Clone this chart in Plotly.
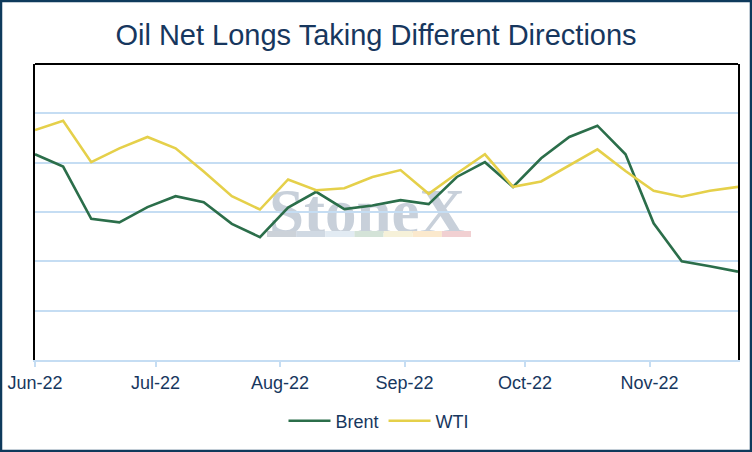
import pandas as pd
import plotly.graph_objects as go

# weekly positioning (unlabelled y scale, 0-6)
dates = pd.date_range("2022-06-01", periods=26, freq="7D")
brent = [4.17, 3.92, 2.86, 2.79, 3.10, 3.32, 3.20, 2.76, 2.49, 3.09, 3.41, 3.06, 3.13,
         3.24, 3.16, 3.71, 4.01, 3.51, 4.09, 4.52, 4.75, 4.17, 2.77, 2.00, 1.90, 1.79]
wti = [4.66, 4.85, 4.01, 4.29, 4.52, 4.29, 3.82, 3.32, 3.05, 3.66, 3.44, 3.48, 3.71,
       3.85, 3.37, 3.78, 4.17, 3.51, 3.62, 3.95, 4.27, 3.83, 3.43, 3.31, 3.43, 3.51]

NAVY = "#17375E"
GREEN = "#2B6E4A"
YELLOW = "#E5D04A"
GRID = "#C5DDF3"
FONT = "Liberation Sans, Arial, sans-serif"

W, H = 752, 452
L, R, T, B = 35, 14, 64, 92
pw, ph = W - L - R, H - T - B


def px(x):
    return (x - L) / pw


def py(y):
    return (H - B - y) / ph


fig = go.Figure()
fig.add_trace(go.Scatter(x=dates, y=brent, mode="lines", name="Brent",
                         line=dict(color=GREEN, width=2.6)))
fig.add_trace(go.Scatter(x=dates, y=wti, mode="lines", name="WTI",
                         line=dict(color=YELLOW, width=2.6)))

shapes = [
    # outer frame
    dict(type="rect", xref="paper", yref="paper", x0=px(1), x1=px(751), y0=py(451), y1=py(1),
         line=dict(color="#0E3A5C", width=2.5), layer="above"),
    # top border of the plot area
    dict(type="line", xref="paper", yref="paper", x0=0, x1=1, y0=1, y1=1,
         line=dict(color="black", width=2), layer="above"),
    # watermark text
    dict(type="rect", xref="paper", yref="paper", x0=px(262), x1=px(472), y0=py(228), y1=py(182),
         line=dict(width=0), fillcolor="rgba(0,0,0,0)", layer="below",
         label=dict(text="<b>StoneX</b>", textposition="middle center",
                    font=dict(family="Liberation Serif, Times New Roman, serif", size=63,
                              color="#C8D0DA"))),
]
# watermark colour strip
strip = ["#CCD2D9", "#D0D9E3", "#E2EBF3", "#D4E3D8", "#F6F1D9", "#FBE9CD", "#F1D0D2"]
seg = (471 - 267) / len(strip)
for i, c in enumerate(strip):
    shapes.append(dict(type="rect", xref="paper", yref="paper",
                       x0=px(267 + i * seg), x1=px(267 + (i + 1) * seg),
                       y0=py(237), y1=py(231), line=dict(width=0), fillcolor=c, layer="below"))

fig.update_layout(
    width=W, height=H,
    margin=dict(l=L, r=R, t=T, b=B, autoexpand=False),
    paper_bgcolor="white", plot_bgcolor="white",
    font=dict(family=FONT, color=NAVY, size=18),
    title=dict(text="Oil Net Longs Taking Different Directions", x=0.5, xanchor="center",
               y=1 - 35 / H, yanchor="middle", font=dict(size=29, color=NAVY)),
    showlegend=True,
    legend=dict(orientation="h", x=px(379), xanchor="center", y=py(421), yanchor="middle",
                font=dict(size=18, color=NAVY), bgcolor="rgba(0,0,0,0)", itemwidth=42),
    shapes=shapes,
)

fig.update_xaxes(
    range=[dates[0], dates[-1]], dtick="M1", tick0="2022-06-01", tickformat="%b-%y",
    showgrid=False, showline=True, linecolor=GRID, linewidth=2,
    ticks="outside", tickcolor=GRID, ticklen=5, tickwidth=1.5,
    tickfont=dict(size=18, color=NAVY), zeroline=False, automargin=False,
)
fig.update_yaxes(
    range=[0, 6], dtick=1, showticklabels=False, showgrid=True, gridcolor=GRID, gridwidth=1.5,
    showline=True, linecolor="black", linewidth=2, mirror=True, zeroline=False, ticks="",
    automargin=False,
)

# drop the browser's default page margin so the chart sits flush in the window
fig.write_html("out.html", config={"displayModeBar": False},
               post_script="document.body.style.margin = '0';")
